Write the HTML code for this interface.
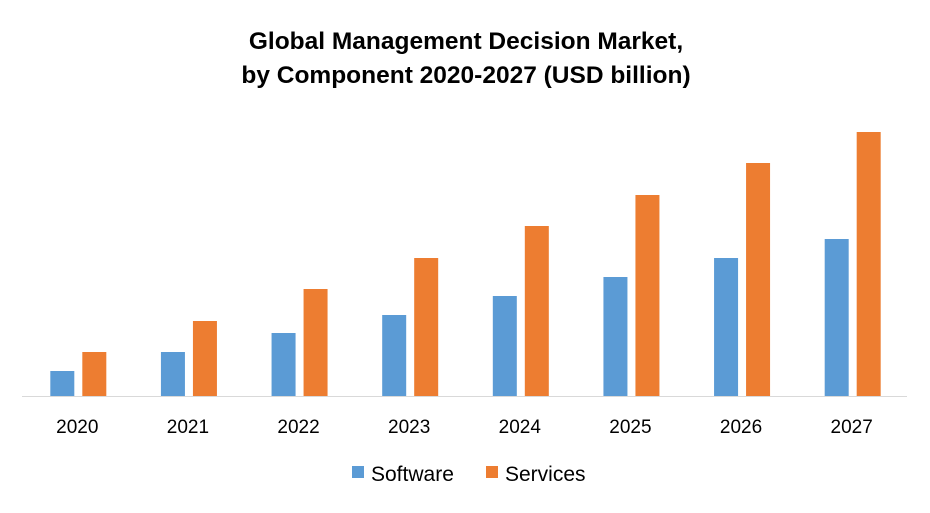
<!DOCTYPE html>
<html><head><meta charset="utf-8"><style>
body{margin:0;background:#fff;}
svg text{font-family:"Liberation Sans",sans-serif;}
</style></head><body>
<svg id="chart" width="930" height="508" viewBox="0 0 930 508">
<text x="466" y="49" text-anchor="middle" font-size="24.5" font-weight="bold" fill="#000">Global Management Decision Market,</text>
<text x="466" y="83" text-anchor="middle" font-size="24.5" font-weight="bold" fill="#000">by Component 2020-2027 (USD billion)</text>
<line x1="22" y1="396.5" x2="907" y2="396.5" stroke="#d9d9d9" stroke-width="1"/>
<g id="bars"></g>
<g id="labels"></g>
<rect x="352" y="466" width="12" height="12" fill="#5b9bd5"/>
<text x="371" y="481" font-size="21" fill="#000">Software</text>
<rect x="486" y="466" width="12" height="12" fill="#ed7d31"/>
<text x="505" y="481" font-size="21" fill="#000">Services</text>
</svg>
<script>
const categories=["2020","2021","2022","2023","2024","2025","2026","2027"];
const software=[2.5,4.4,6.3,8.1,10.0,11.9,13.8,15.7];
const services=[4.4,7.5,10.7,13.8,17.0,20.1,23.3,26.4];
const NS="http://www.w3.org/2000/svg";
const x0=22,x1=907,base=396,pxPerUnit=10;
const band=(x1-x0)/categories.length;
const xC=i=>x0+band*(i+0.5);
const yS=v=>base-v*pxPerUnit;
const bars=document.getElementById('bars'),labels=document.getElementById('labels');
categories.forEach((c,i)=>{
  [[software,'#5b9bd5',-27,'software'],[services,'#ed7d31',5,'services']].forEach(([arr,col,off,nm])=>{
    const r=document.createElementNS(NS,'rect');
    r.setAttribute('x',xC(i)+off);r.setAttribute('width',24);
    r.setAttribute('y',yS(arr[i]));r.setAttribute('height',base-yS(arr[i]));
    r.setAttribute('fill',col);
    
    
    bars.appendChild(r);
  });
  const t=document.createElementNS(NS,'text');
  t.setAttribute('x',xC(i));t.setAttribute('y',433);t.setAttribute('text-anchor','middle');
  t.setAttribute('font-size','19');t.textContent=c;
  
  
  labels.appendChild(t);
});
</script>
</body></html>
